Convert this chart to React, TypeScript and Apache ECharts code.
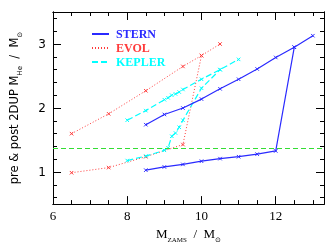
import React, { useEffect, useRef } from "react";
import * as echarts from "echarts";

// STERN
const sternPreMass = [8.5, 9, 9.5, 10, 10.5, 11, 11.5, 12, 12.5, 13];
const sternPre = [1.74, 1.9, 2.0, 2.14, 2.3, 2.45, 2.61, 2.79, 2.95, 3.13];
const sternPostMass = [8.5, 9, 9.5, 10, 10.5, 11, 11.5, 12, 12.5];
const sternPost = [1.03, 1.08, 1.12, 1.17, 1.21, 1.24, 1.28, 1.33, 2.95];

// EVOL
const evolPreMass = [6.5, 7.5, 8.5, 9.5, 10, 10.5];
const evolPre = [1.6, 1.91, 2.27, 2.65, 2.82, 3.0];
const evolPostMass = [6.5, 7.5, 8.5, 9.5, 10];
const evolPost = [0.99, 1.07, 1.24, 1.43, 2.82];

// KEPLER
const keplerPreMass = [8, 8.5, 9, 9.1, 9.2, 9.3, 9.4, 9.5, 10, 10.5, 11];
const keplerPre = [1.81, 1.96, 2.13, 2.16, 2.2, 2.22, 2.25, 2.29, 2.45, 2.6, 2.76];
const keplerPostMass = [8, 8.5, 9, 9.1, 9.2, 9.3, 9.4, 9.5, 10, 10.5];
const keplerPost = [1.18, 1.25, 1.34, 1.38, 1.56, 1.61, 1.7, 1.81, 2.31, 2.6];

const chandraLimit = 1.37;

const xMajor = [6, 8, 10, 12];
const xMinor = [6.5, 7, 7.5, 8.5, 9, 9.5, 10.5, 11, 11.5, 12.5, 13];
const yMajor = [1, 2, 3];
const yMinor = [0.6, 0.8, 1.2, 1.4, 1.6, 1.8, 2.2, 2.4, 2.6, 2.8, 3.2, 3.4];

const X_MIN = 6;
const X_MAX = 13.3;
const Y_MIN = 0.5;
const Y_MAX = 3.5;

const zip = (a: number[], b: number[]) => a.map((v, i) => [v, b[i]]);

const BLUE = "#2a2aff";
const RED = "#ff3b3b";
const CYAN = "#00ffff";
const GREEN = "#33dd33";

const cross = "path://M0,0L10,10M10,0L0,10";

function App() {
  const ref = useRef<HTMLDivElement>(null);
  useEffect(() => {
    const chart = echarts.init(ref.current!, null, { renderer: "svg" });
    const mkAxis = (
      kind: "x" | "y",
      position: string,
      ticks: number[],
      len: number,
      labels: boolean,
      extra: any = {}
    ) => ({
      type: "value",
      min: kind === "x" ? X_MIN : Y_MIN,
      max: kind === "x" ? X_MAX : Y_MAX,
      position,
      axisLine: { show: true, onZero: false, lineStyle: { color: "#000", width: 1 } },
      axisTick: {
        show: true,
        inside: true,
        length: len,
        customValues: ticks,
        lineStyle: { color: "#000", width: 1 },
      },
      axisLabel: labels
        ? {
            show: true,
            customValues: ticks,
            color: "#000",
            fontSize: kind === "x" ? 13 : 12,
            fontFamily: kind === "x" ? "Liberation Serif" : "DejaVu Sans",
            margin: kind === "x" ? 5 : 7,
          }
        : { show: false },
      splitLine: { show: false },
      ...extra,
    });

    const xName = {
      name: "{a|M}{s|ZAMS}{a|  /  M}{s|⊙}",
      nameLocation: "middle",
      nameGap: 19,
      nameTextStyle: {
        rich: {
          a: { fontFamily: "Liberation Serif", fontSize: 13, color: "#000", verticalAlign: "bottom" },
          s: { fontFamily: "Liberation Serif", fontSize: 7, color: "#000", verticalAlign: "bottom", padding: [0, 0, -3, 0] },
        },
      },
    };
    const yName = {
      name: "{a|pre & post 2DUP M}{s|He}{a|  /  M}{s|⊙}",
      nameLocation: "middle",
      nameGap: 33,
      nameTextStyle: {
        rich: {
          a: { fontFamily: "DejaVu Sans", fontSize: 11.5, color: "#000", verticalAlign: "bottom" },
          s: { fontFamily: "DejaVu Sans", fontSize: 7, color: "#000", verticalAlign: "bottom", padding: [0, 0, -3, 0] },
        },
      },
    };

    const line = (name: string, data: number[][], color: string, type: any, width: number, z: number, extra: any = {}) => ({
      name,
      type: "line",
      data,
      symbol: cross,
      symbolSize: 3.5,
      showSymbol: true,
      z,
      lineStyle: { color, type, width },
      itemStyle: { color, borderColor: color, borderWidth: 1 },
      emphasis: { disabled: true },
      ...extra,
    });

    chart.setOption({
      animation: false,
      grid: { left: 49, right: 7, top: 12, bottom: 28, containLabel: false },
      xAxis: [
        mkAxis("x", "bottom", xMajor, 8, true, xName),
        mkAxis("x", "bottom", xMinor, 4, false),
        mkAxis("x", "top", xMajor, 8, false),
        mkAxis("x", "top", xMinor, 4, false),
      ],
      yAxis: [
        mkAxis("y", "left", yMajor, 8, true, yName),
        mkAxis("y", "left", yMinor, 4, false),
        mkAxis("y", "right", yMajor, 8, false),
        mkAxis("y", "right", yMinor, 4, false),
      ],
      legend: {
        orient: "vertical",
        left: 86,
        top: 22,
        itemWidth: 17,
        itemHeight: 10,
        itemGap: 0,
        itemStyle: { opacity: 0 },
        textStyle: { fontFamily: "Liberation Serif", fontWeight: "bold", fontSize: 12, lineHeight: 14, padding: [0, 0, 0, 2] },
        data: [
          { name: "STERN", textStyle: { color: BLUE } },
          { name: "EVOL", textStyle: { color: RED } },
          { name: "KEPLER", textStyle: { color: CYAN } },
        ],
      },
      series: [
        line("EVOL", zip(evolPreMass, evolPre), RED, [1, 2], 1, 2, {
          markLine: {
            silent: true,
            symbol: "none",
            label: { show: false },
            lineStyle: { color: GREEN, type: [5, 3], width: 1 },
            data: [{ yAxis: chandraLimit }],
          },
        }),
        line("EVOL", zip(evolPostMass, evolPost), RED, [1, 2], 1, 2),
        line("KEPLER", zip(keplerPreMass, keplerPre), CYAN, [6, 3], 1.2, 3),
        line("KEPLER", zip(keplerPostMass, keplerPost), CYAN, [6, 3], 1.2, 3),
        line("STERN", zip(sternPreMass, sternPre), BLUE, "solid", 1.2, 4),
        line("STERN", zip(sternPostMass, sternPost), BLUE, "solid", 1.2, 4),
      ],
    });
    return () => chart.dispose();
  }, []);
  return <div ref={ref} style={{ position: "fixed", left: 0, top: 0, width: 331, height: 248 }} />;
}

export default App;
